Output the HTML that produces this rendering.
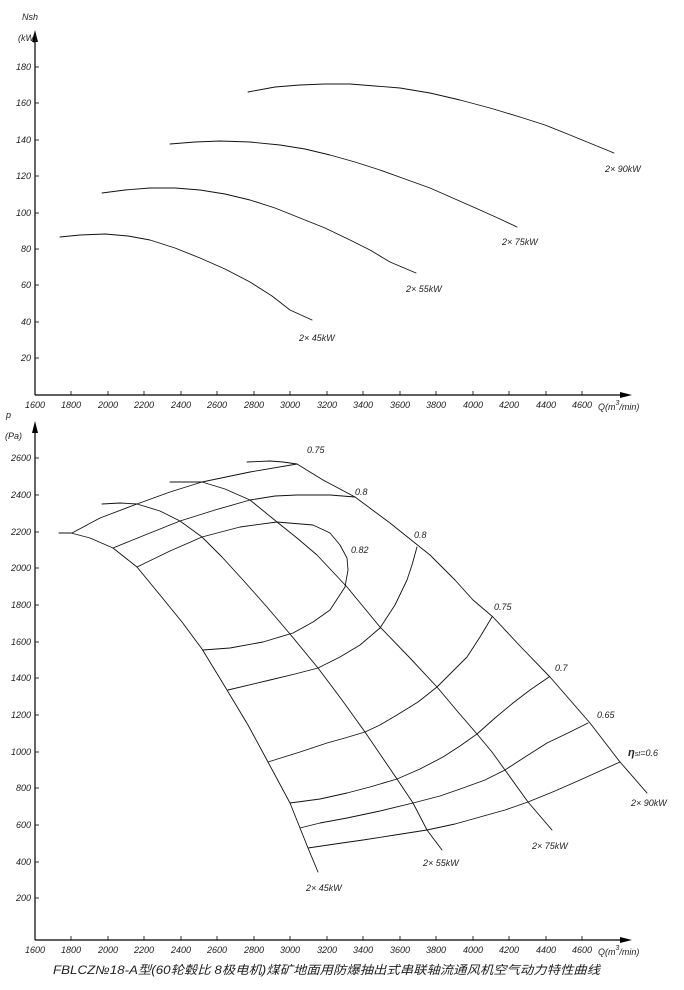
<!DOCTYPE html>
<html><head><meta charset="utf-8"><style>
html,body{margin:0;padding:0;background:#fff;}
svg{display:block;}
text{font-family:"Liberation Sans","Noto Sans CJK SC",sans-serif;font-style:italic;fill:#222;}
.t{font-size:9px;}
.c{fill:none;stroke:#111;stroke-width:0.9;stroke-linejoin:round;stroke-linecap:round;}
</style></head><body>
<svg width="684" height="990" viewBox="0 0 684 990" xmlns="http://www.w3.org/2000/svg">
<!-- TOP CHART AXES -->
<line x1="35" y1="395" x2="35" y2="38" stroke="#000" stroke-width="1.2"/>
<polygon points="35,30 32,42 38,42" fill="#000"/>
<line x1="35" y1="395" x2="622" y2="395" stroke="#000" stroke-width="1.2"/>
<polygon points="632,395 620,392 620,398" fill="#000"/>
<text x="22" y="20" class="t">Nsh</text>
<text x="18" y="41" class="t">(kW)</text>
<g class="t" text-anchor="end">
<text x="31" y="70">180</text><text x="31" y="106">160</text><text x="31" y="143">140</text>
<text x="31" y="179">120</text><text x="31" y="216">100</text><text x="31" y="252">80</text>
<text x="31" y="288">60</text><text x="31" y="325">40</text><text x="31" y="361">20</text>
</g>
<g stroke="#000" stroke-width="0.8">
<line x1="35" y1="67" x2="39" y2="67"/><line x1="35" y1="103" x2="39" y2="103"/><line x1="35" y1="140" x2="39" y2="140"/><line x1="35" y1="176" x2="39" y2="176"/><line x1="35" y1="213" x2="39" y2="213"/><line x1="35" y1="249" x2="39" y2="249"/><line x1="35" y1="285" x2="39" y2="285"/><line x1="35" y1="322" x2="39" y2="322"/><line x1="35" y1="358" x2="39" y2="358"/>
</g>
<g class="t" text-anchor="middle">
<text x="35" y="408">1600</text><text x="71" y="408">1800</text><text x="108" y="408">2000</text><text x="144" y="408">2200</text><text x="181" y="408">2400</text><text x="217" y="408">2600</text><text x="254" y="408">2800</text><text x="290" y="408">3000</text><text x="327" y="408">3200</text><text x="363" y="408">3400</text><text x="400" y="408">3600</text><text x="436" y="408">3800</text><text x="473" y="408">4000</text><text x="509" y="408">4200</text><text x="546" y="408">4400</text><text x="582" y="408">4600</text>
</g>
<text x="598" y="410" class="t">Q(m<tspan dy="-5" font-size="7">3</tspan><tspan dy="5">/min)</tspan></text>
<g stroke="#000" stroke-width="0.8">
<line x1="71" y1="395" x2="71" y2="391"/><line x1="108" y1="395" x2="108" y2="391"/><line x1="144" y1="395" x2="144" y2="391"/><line x1="181" y1="395" x2="181" y2="391"/><line x1="217" y1="395" x2="217" y2="391"/><line x1="254" y1="395" x2="254" y2="391"/><line x1="290" y1="395" x2="290" y2="391"/><line x1="327" y1="395" x2="327" y2="391"/><line x1="363" y1="395" x2="363" y2="391"/><line x1="400" y1="395" x2="400" y2="391"/><line x1="436" y1="395" x2="436" y2="391"/><line x1="473" y1="395" x2="473" y2="391"/><line x1="509" y1="395" x2="509" y2="391"/><line x1="546" y1="395" x2="546" y2="391"/><line x1="582" y1="395" x2="582" y2="391"/>
</g>
<polyline class="c" points="60,237 80,235 105,234 128,236 150,240 175,248 200,258 225,269 250,282 272,296 290,310 312,320"/>
<polyline class="c" points="102,193 125,190 150,188 175,188 200,190 225,194 250,200 275,208 300,218 325,228 350,240 370,250 390,262 416,273"/>
<polyline class="c" points="170,144 195,142 220,141 250,142 280,145 305,149 330,155 355,162 380,170 405,179 430,188 455,199 480,210 500,219 517,227"/>
<polyline class="c" points="248,92 275,87 300,85 325,84 350,84 375,86 400,88 430,93 460,100 490,108 520,117 545,125 570,135 592,144 614,153"/>
<text x="299" y="341" class="t">2× 45kW</text>
<text x="406" y="292" class="t">2× 55kW</text>
<text x="502" y="245" class="t">2× 75kW</text>
<text x="605" y="172" class="t">2× 90kW</text>

<!-- BOTTOM CHART AXES -->
<line x1="35" y1="940" x2="35" y2="430" stroke="#000" stroke-width="1.2"/>
<polygon points="35,421 32,433 38,433" fill="#000"/>
<line x1="35" y1="940" x2="622" y2="940" stroke="#000" stroke-width="1.2"/>
<polygon points="632,940 620,937 620,943" fill="#000"/>
<text x="6" y="418" class="t">p</text>
<text x="5" y="439" class="t">(Pa)</text>
<g class="t" text-anchor="end">
<text x="31" y="461">2600</text><text x="31" y="498">2400</text><text x="31" y="535">2200</text><text x="31" y="571">2000</text><text x="31" y="608">1800</text><text x="31" y="645">1600</text><text x="31" y="681">1400</text><text x="31" y="718">1200</text><text x="31" y="755">1000</text><text x="31" y="791">800</text><text x="31" y="828">600</text><text x="31" y="865">400</text><text x="31" y="901">200</text>
</g>
<g stroke="#000" stroke-width="0.8">
<line x1="35" y1="458" x2="39" y2="458"/><line x1="35" y1="495" x2="39" y2="495"/><line x1="35" y1="532" x2="39" y2="532"/><line x1="35" y1="568" x2="39" y2="568"/><line x1="35" y1="605" x2="39" y2="605"/><line x1="35" y1="642" x2="39" y2="642"/><line x1="35" y1="678" x2="39" y2="678"/><line x1="35" y1="715" x2="39" y2="715"/><line x1="35" y1="752" x2="39" y2="752"/><line x1="35" y1="788" x2="39" y2="788"/><line x1="35" y1="825" x2="39" y2="825"/><line x1="35" y1="862" x2="39" y2="862"/><line x1="35" y1="898" x2="39" y2="898"/>
<line x1="71" y1="940" x2="71" y2="936"/><line x1="108" y1="940" x2="108" y2="936"/><line x1="144" y1="940" x2="144" y2="936"/><line x1="181" y1="940" x2="181" y2="936"/><line x1="217" y1="940" x2="217" y2="936"/><line x1="254" y1="940" x2="254" y2="936"/><line x1="290" y1="940" x2="290" y2="936"/><line x1="327" y1="940" x2="327" y2="936"/><line x1="363" y1="940" x2="363" y2="936"/><line x1="400" y1="940" x2="400" y2="936"/><line x1="436" y1="940" x2="436" y2="936"/><line x1="473" y1="940" x2="473" y2="936"/><line x1="509" y1="940" x2="509" y2="936"/><line x1="546" y1="940" x2="546" y2="936"/><line x1="582" y1="940" x2="582" y2="936"/>
</g>
<g class="t" text-anchor="middle">
<text x="35" y="953">1600</text><text x="71" y="953">1800</text><text x="108" y="953">2000</text><text x="144" y="953">2200</text><text x="181" y="953">2400</text><text x="217" y="953">2600</text><text x="254" y="953">2800</text><text x="290" y="953">3000</text><text x="327" y="953">3200</text><text x="363" y="953">3400</text><text x="400" y="953">3600</text><text x="436" y="953">3800</text><text x="473" y="953">4000</text><text x="509" y="953">4200</text><text x="546" y="953">4400</text><text x="582" y="953">4600</text>
</g>
<text x="598" y="955" class="t">Q(m<tspan dy="-5" font-size="7">3</tspan><tspan dy="5">/min)</tspan></text>

<!-- fan curves -->
<polyline class="c" points="59,533 71,533 90,538 113,548 137,567 160,595 182,622 202,649 227,690 248,725 268,762 290,803 300,828 308,848 318,872"/>
<polyline class="c" points="102,504 120,503 137,504 160,511 180,521 202,537 222,557 243,580 267,607 290,634 318,668 342,700 365,732 382,757 397,779 413,803 427,830 442,850"/>
<polyline class="c" points="170,482 202,482 225,489 250,500 277,522 297,538 317,555 347,587 380,627 410,658 437,687 458,712 477,734 492,752 505,770 528,802 552,830"/>
<polyline class="c" points="247,462 270,461 283,462 297,464 323,480 355,497 390,523 430,555 455,580 473,600 493,617 520,646 550,677 570,700 590,723 620,762 647,793"/>
<!-- efficiency curves -->
<polyline class="c" points="72,533 100,518 137,504 170,492 202,482 250,472 297,464"/>
<polyline class="c" points="113,548 145,535 180,521 215,510 250,500 275,496 297,495 330,495 355,497"/>
<polyline class="c" points="137,567 170,551 202,537 240,527 277,522 313,525 330,533 340,545 347,558 348,570 345,587 330,610 313,622 293,633 263,642 230,648 203,650"/>
<polyline class="c" points="417,547 412,565 407,580 395,605 380,628 360,645 340,657 318,668 295,674 270,680 228,690"/>
<polyline class="c" points="492,617 480,637 467,657 450,674 437,687 418,702 397,715 380,725 365,732 345,738 327,743 300,752 268,762"/>
<polyline class="c" points="549,677 530,690 513,703 495,718 477,734 460,746 443,757 420,769 397,779 370,787 347,793 320,799 290,803"/>
<polyline class="c" points="588,723 568,733 547,743 525,757 505,770 485,780 463,788 440,796 413,803 380,811 347,818 320,823 300,828"/>
<polyline class="c" points="620,762 600,771 580,780 555,791 528,802 505,810 480,817 455,824 427,830 395,835 363,840 335,844 308,848"/>
<g class="t">
<text x="307" y="453">0.75</text>
<text x="355" y="495">0.8</text>
<text x="351" y="553">0.82</text>
<text x="414" y="538">0.8</text>
<text x="494" y="610">0.75</text>
<text x="555" y="671">0.7</text>
<text x="597" y="718">0.65</text>
<text x="628" y="756"><tspan font-weight="bold" font-size="11">η</tspan><tspan font-size="7">st</tspan>=0.6</text>
<text x="631" y="806">2× 90kW</text>
<text x="532" y="849">2× 75kW</text>
<text x="423" y="866">2× 55kW</text>
<text x="306" y="891">2× 45kW</text>
</g>
<text x="53" y="974" style="font-size:12px" textLength="547" lengthAdjust="spacingAndGlyphs">FBLCZ№18-A型(60轮毂比 8极电机)煤矿地面用防爆抽出式串联轴流通风机空气动力特性曲线</text>
</svg>
</body></html>
